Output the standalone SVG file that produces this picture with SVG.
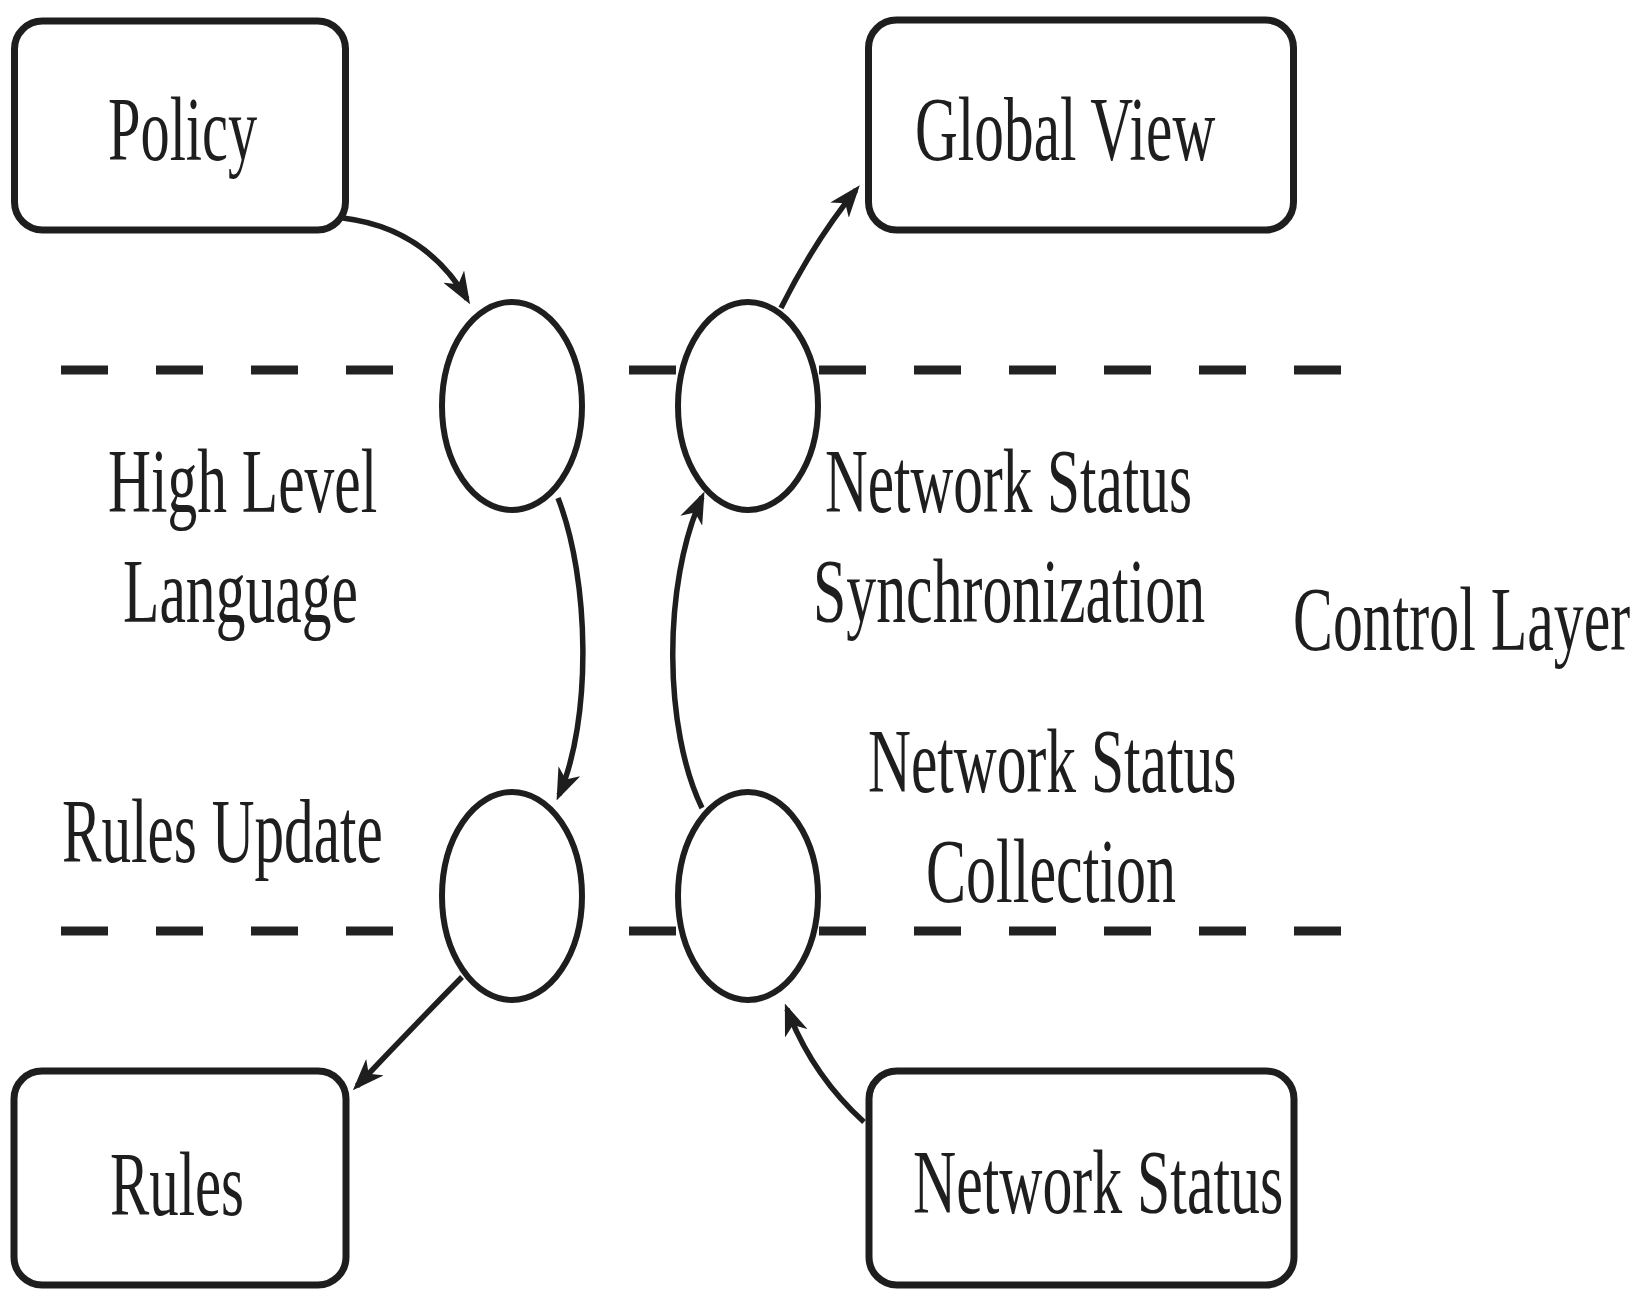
<svg xmlns="http://www.w3.org/2000/svg" width="1642" height="1298" viewBox="0 0 1642 1298">
  <style>
    .box { fill: #ffffff; stroke: #1e1e1e; stroke-width: 7; }
    .node { fill: #ffffff; stroke: #1e1e1e; stroke-width: 6; }
    .dash { stroke: #222222; stroke-width: 9; }
    .conn { fill: none; stroke: #1e1e1e; stroke-width: 5.5; marker-end: url(#arrow); }
    .lbl { font-family: "Liberation Serif", "Times New Roman", serif; font-size: 90px; fill: #1e1e1e; }
  </style>
  <defs>
    <marker id="arrow" viewBox="0 0 32 24" refX="26" refY="12" markerWidth="32" markerHeight="24" markerUnits="userSpaceOnUse" orient="auto">
      <path d="M0,0 L32,12 L0,24 L9,12 z" fill="#1e1e1e"/>
    </marker>
  </defs>

  <rect width="1642" height="1298" fill="#ffffff"/>

  <g id="layer-lines">
    <line class="dash" x1="61" y1="370" x2="108" y2="370"/>
    <line class="dash" x1="156" y1="370" x2="203" y2="370"/>
    <line class="dash" x1="251" y1="370" x2="298" y2="370"/>
    <line class="dash" x1="346" y1="370" x2="393" y2="370"/>
    <line class="dash" x1="629" y1="370" x2="676" y2="370"/>
    <line class="dash" x1="819" y1="370" x2="866" y2="370"/>
    <line class="dash" x1="914" y1="370" x2="961" y2="370"/>
    <line class="dash" x1="1009" y1="370" x2="1056" y2="370"/>
    <line class="dash" x1="1104" y1="370" x2="1151" y2="370"/>
    <line class="dash" x1="1199" y1="370" x2="1246" y2="370"/>
    <line class="dash" x1="1294" y1="370" x2="1341" y2="370"/>

    <line class="dash" x1="61" y1="931" x2="108" y2="931"/>
    <line class="dash" x1="156" y1="931" x2="203" y2="931"/>
    <line class="dash" x1="251" y1="931" x2="298" y2="931"/>
    <line class="dash" x1="346" y1="931" x2="393" y2="931"/>
    <line class="dash" x1="629" y1="931" x2="676" y2="931"/>
    <line class="dash" x1="819" y1="931" x2="866" y2="931"/>
    <line class="dash" x1="914" y1="931" x2="961" y2="931"/>
    <line class="dash" x1="1009" y1="931" x2="1056" y2="931"/>
    <line class="dash" x1="1104" y1="931" x2="1151" y2="931"/>
    <line class="dash" x1="1199" y1="931" x2="1246" y2="931"/>
    <line class="dash" x1="1294" y1="931" x2="1341" y2="931"/>
  </g>

  <g id="policy">
    <rect class="box" x="14.5" y="21" width="331" height="209" rx="28"/>
    <text class="lbl" transform="matrix(0.66,0,0,1,108,160)" textLength="226" lengthAdjust="spacingAndGlyphs">Policy</text>
  </g>
  <g id="global-view">
    <rect class="box" x="868.5" y="20" width="425" height="210" rx="28"/>
    <text class="lbl" transform="matrix(0.66,0,0,1,915,160)" textLength="455" lengthAdjust="spacingAndGlyphs">Global View</text>
  </g>
  <g id="rules">
    <rect class="box" x="14" y="1071" width="332" height="214" rx="28"/>
    <text class="lbl" transform="matrix(0.66,0,0,1,110,1215)" textLength="203" lengthAdjust="spacingAndGlyphs">Rules</text>
  </g>
  <g id="network-status">
    <rect class="box" x="869" y="1071" width="425" height="214" rx="28"/>
    <text class="lbl" transform="matrix(0.66,0,0,1,913,1213)" textLength="561" lengthAdjust="spacingAndGlyphs">Network Status</text>
  </g>

  <g id="high-level-language">
    <ellipse class="node" cx="512" cy="406" rx="70" ry="104"/>
  </g>
  <g id="network-status-sync">
    <ellipse class="node" cx="748" cy="406" rx="70" ry="104"/>
  </g>
  <g id="rules-update">
    <ellipse class="node" cx="512" cy="896" rx="70" ry="104"/>
  </g>
  <g id="network-status-collection">
    <ellipse class="node" cx="748" cy="896" rx="70" ry="104"/>
  </g>

  <g id="labels">
    <text class="lbl" transform="matrix(0.66,0,0,1,108,512)" textLength="408" lengthAdjust="spacingAndGlyphs">High Level</text>
    <text class="lbl" transform="matrix(0.66,0,0,1,123,622)" textLength="356" lengthAdjust="spacingAndGlyphs">Language</text>
    <text class="lbl" transform="matrix(0.66,0,0,1,825,512)" textLength="556" lengthAdjust="spacingAndGlyphs">Network Status</text>
    <text class="lbl" transform="matrix(0.66,0,0,1,813,622)" textLength="594" lengthAdjust="spacingAndGlyphs">Synchronization</text>
    <text class="lbl" transform="matrix(0.66,0,0,1,868,792)" textLength="558" lengthAdjust="spacingAndGlyphs">Network Status</text>
    <text class="lbl" transform="matrix(0.66,0,0,1,926,902)" textLength="379" lengthAdjust="spacingAndGlyphs">Collection</text>
    <text class="lbl" transform="matrix(0.66,0,0,1,62,862)" textLength="486" lengthAdjust="spacingAndGlyphs">Rules Update</text>
    <text class="lbl" transform="matrix(0.66,0,0,1,1293,650)" textLength="511" lengthAdjust="spacingAndGlyphs">Control Layer</text>
  </g>

  <g id="connectors">
    <path class="conn" d="M343,218 Q425,228 467,299"/>
    <path class="conn" d="M781,308 Q815,240 856,190"/>
    <path class="conn" d="M558,498 C590,580 592,720 559,795"/>
    <path class="conn" d="M702,808 C664,730 662,585 702,497"/>
    <path class="conn" d="M462,977 Q410,1030 357,1086"/>
    <path class="conn" d="M864,1122 Q812,1075 787,1009"/>
  </g>
</svg>
